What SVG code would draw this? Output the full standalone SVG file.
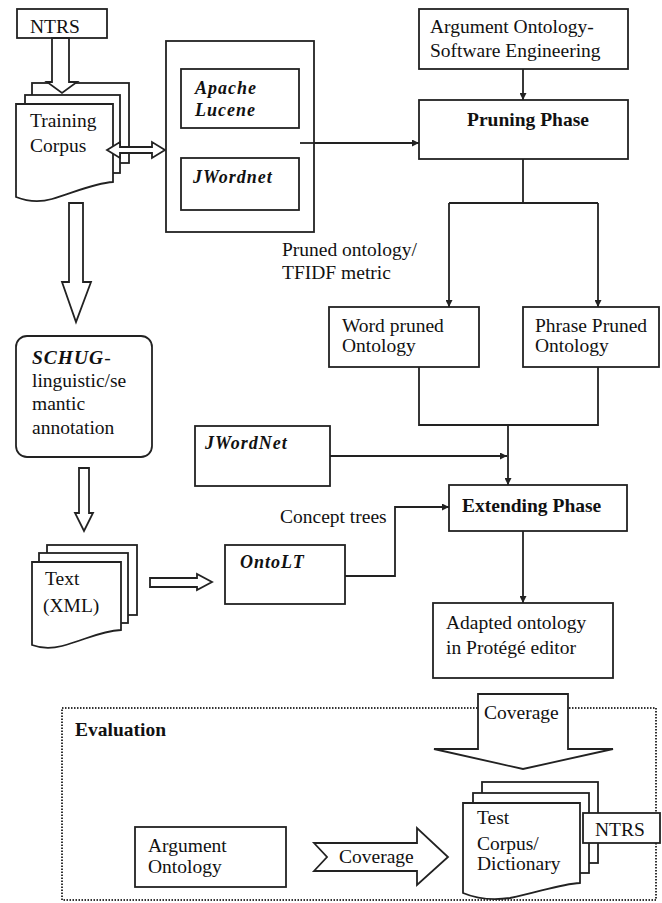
<svg xmlns="http://www.w3.org/2000/svg" width="662" height="903" viewBox="0 0 662 903" font-family="'Liberation Serif', 'DejaVu Serif', serif">
<style>
.b{fill:#fff;stroke:#222;stroke-width:1.8}
.l{fill:none;stroke:#222;stroke-width:1.8}
.t{font-family:'Liberation Serif','DejaVu Serif',serif;font-size:19.5px;fill:#111}
.bd{font-weight:bold}
.bi{font-weight:bold;font-style:italic;font-size:18px;letter-spacing:1px}
.dot{fill:none;stroke:#333;stroke-width:2;stroke-dasharray:1.5 1.5}
</style>
<defs>
<marker id="ah" viewBox="0 0 10 10" refX="10" refY="5" markerWidth="7" markerHeight="7" markerUnits="userSpaceOnUse" orient="auto">
<path d="M0,0 L10,5 L0,10 Z" fill="#222"/>
</marker>
</defs>

<rect class="dot" x="62" y="708" width="594" height="192"/>

<g id="connectors">
<path class="l" d="M523,69 V100" marker-end="url(#ah)"/>
<path class="l" d="M300,143 H419" marker-end="url(#ah)"/>
<path class="l" d="M523,159 V203 M449,203 H598"/>
<path class="l" d="M449,203 V307" marker-end="url(#ah)"/>
<path class="l" d="M598,203 V307" marker-end="url(#ah)"/>
<path class="l" d="M419,367 V425 H598 V367"/>
<path class="l" d="M508,425 V485" marker-end="url(#ah)"/>
<path class="l" d="M330,456 H507" marker-end="url(#ah)"/>
<path class="l" d="M345,576 H395 V507 H449" marker-end="url(#ah)"/>
<path class="l" d="M523,531 V603" marker-end="url(#ah)"/>
</g>

<g id="ntrs-top">
<rect class="b" x="17" y="9" width="90" height="29"/>
<text class="t" x="30" y="33">NTRS</text>
</g>

<g id="training-corpus">
<rect class="b" x="32" y="83" width="97" height="80"/>
<rect class="b" x="25" y="95" width="95" height="78"/>
<path class="b" d="M16,104 H113 V182 C95,183 75,192 52,199 C38,203 26,201 16,197 Z"/>
<text class="t" x="30" y="127">Training</text>
<text class="t" x="30" y="152">Corpus</text>
</g>

<g id="arrow-ntrs-corpus">
<path class="b" d="M52,38 H69 V82 H77 L62,93 L47,82 H52 Z"/>
</g>

<g id="arrow-corpus-tools">
<path class="b" d="M107,150 L120,142 V147 H152 V142 L165,150 L152,158 V153 H120 V158 Z"/>
</g>

<g id="tools">
<rect class="b" x="166" y="41" width="148" height="191"/>
</g>
<g id="apache-lucene">
<rect class="b" x="181" y="69" width="118" height="59"/>
<text class="t bi" x="195" y="94">Apache</text>
<text class="t bi" x="195" y="116">Lucene</text>
</g>
<g id="jwordnet-1">
<rect class="b" x="181" y="158" width="118" height="52"/>
<text class="t bi" x="193" y="183">JWordnet</text>
</g>
<path class="l" d="M300,143 H314"/>

<g id="argument-ontology-se">
<rect class="b" x="419" y="9" width="209" height="60"/>
<text class="t" x="430" y="33">Argument Ontology-</text>
<text class="t" x="430" y="57">Software Engineering</text>
</g>

<g id="pruning-phase">
<rect class="b" x="419" y="100" width="209" height="59"/>
<text class="t bd" x="528" y="126" text-anchor="middle">Pruning Phase</text>
</g>

<g id="label-pruned">
<text class="t" x="282" y="256">Pruned ontology/</text>
<text class="t" x="282" y="279">TFIDF metric</text>
</g>

<g id="word-pruned">
<rect class="b" x="329" y="307" width="150" height="60"/>
<text class="t" x="342" y="332">Word pruned</text>
<text class="t" x="342" y="352">Ontology</text>
</g>

<g id="phrase-pruned">
<rect class="b" x="523" y="307" width="136" height="60"/>
<text class="t" x="535" y="332">Phrase Pruned</text>
<text class="t" x="535" y="352">Ontology</text>
</g>

<g id="arrow-corpus-schug">
<path class="b" d="M69,203 H83 V282 H91 L76,322 L62,282 H69 Z"/>
</g>

<g id="schug">
<rect class="b" x="16" y="336" width="136" height="121" rx="11"/>
<text class="t" x="32" y="364"><tspan font-weight="bold" font-style="italic" letter-spacing="1">SCHUG</tspan>-</text>
<text class="t" x="32" y="387">linguistic/se</text>
<text class="t" x="32" y="410">mantic</text>
<text class="t" x="32" y="434">annotation</text>
</g>

<g id="arrow-schug-text">
<path class="b" d="M79,468 H89 V513 H93 L84,531 L75,513 H79 Z"/>
</g>

<g id="jwordnet-2">
<rect class="b" x="195" y="426" width="135" height="60"/>
<text class="t bi" x="205" y="449">JWordNet</text>
</g>

<g id="extending-phase">
<rect class="b" x="449" y="485" width="178" height="46"/>
<text class="t bd" x="462" y="512">Extending Phase</text>
</g>

<g id="label-concept">
<text class="t" x="280" y="523">Concept trees</text>
</g>

<g id="text-xml">
<rect class="b" x="47" y="545" width="90" height="70"/>
<rect class="b" x="39" y="553" width="89" height="70"/>
<path class="b" d="M32,562 H121 V630 C100,631 85,640 62,646 C50,649 40,648 32,645 Z"/>
<text class="t" x="45" y="585">Text</text>
<text class="t" x="43" y="612">(XML)</text>
</g>

<g id="arrow-text-ontolt">
<path class="b" d="M150,578 H197 V574 L212,582 L197,590 V587 H150 Z"/>
</g>

<g id="ontolt">
<rect class="b" x="225" y="545" width="120" height="59"/>
<text class="t bi" x="240" y="568" letter-spacing="2">OntoLT</text>
</g>

<g id="adapted-ontology">
<rect class="b" x="433" y="603" width="180" height="75"/>
<text class="t" x="446" y="629">Adapted ontology</text>
<text class="t" x="446" y="654">in Protégé editor</text>
</g>

<g id="evaluation">
<text class="t bd" x="75" y="736">Evaluation</text>
</g>

<g id="coverage-top">
<path class="b" d="M478,694 H568 V749 H613 L523,769 L434,749 H478 Z"/>
<text class="t" x="484" y="719">Coverage</text>
</g>

<g id="argument-ontology">
<rect class="b" x="135" y="827" width="151" height="60"/>
<text class="t" x="148" y="852">Argument</text>
<text class="t" x="148" y="873">Ontology</text>
</g>

<g id="coverage-right">
<path class="b" d="M314,843 H417 V828 L448,857 L417,885 V871 H314 L327,857 Z"/>
<text class="t" x="339" y="863">Coverage</text>
</g>

<g id="test-corpus">
<rect class="b" x="482" y="782" width="116" height="81"/>
<rect class="b" x="473" y="793" width="116" height="80"/>
<path class="b" d="M463,803 H580 V883 C560,884 540,892 510,898 C490,901 475,898 463,893 Z"/>
<text class="t" x="477" y="824">Test</text>
<text class="t" x="477" y="850">Corpus/</text>
<text class="t" x="477" y="870">Dictionary</text>
</g>

<g id="ntrs-bottom">
<rect class="b" x="583" y="813" width="77" height="30"/>
<text class="t" x="595" y="836">NTRS</text>
</g>
</svg>
